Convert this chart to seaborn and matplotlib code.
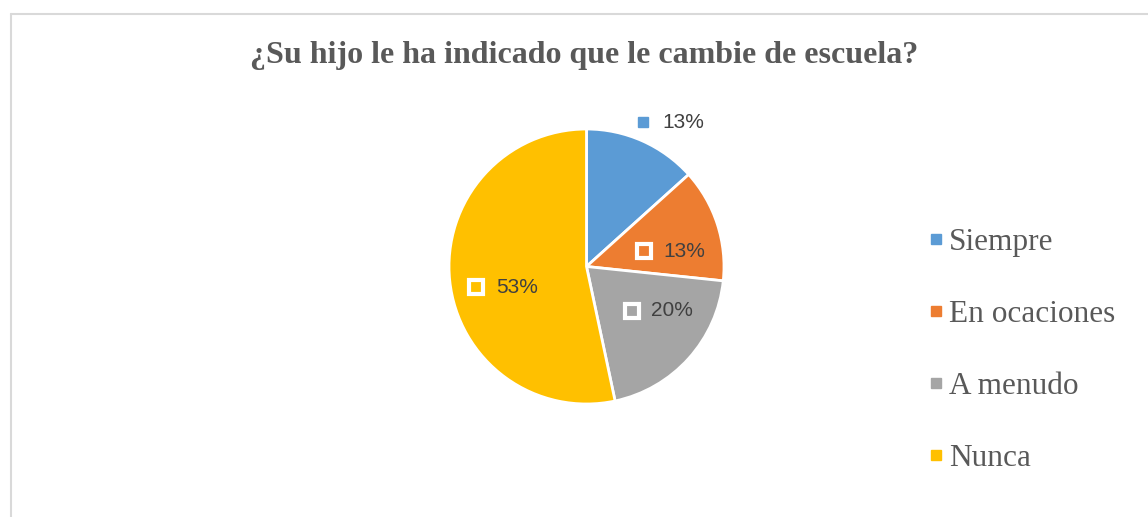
import matplotlib.pyplot as plt
import seaborn as sns
from matplotlib.lines import Line2D

# Data (slice angles match 2, 2, 3, 8 out of 15 answers)
categories = ["Siempre", "En ocaciones", "A menudo", "Nunca"]
counts = [2, 2, 3, 8]
colors = ["#5B9BD5", "#ED7D31", "#A5A5A5", "#FFC000"]
title = "¿Su hijo le ha indicado que le cambie de escuela?"

total = sum(counts)
pct_labels = [f"{round(100 * c / total)}%" for c in counts]

# where each data label sits (pie radius = 1), Excel "best fit" style
label_pos = [(0.41, 1.05), (0.42, 0.11), (0.33, -0.32), (-0.80, -0.15)]
label_inside = [False, True, True, True]

sns.set_style("white")

fig = plt.figure(figsize=(11.48, 5.17), dpi=100)

# pie axes: centre at about (586, 266) px, radius ~137 px
W, H = 1148, 517
r_px = 137.5
span = 1.2
ax = fig.add_axes([(586.5 - span * r_px) / W, (H - 266.5 - span * r_px) / H,
                   2 * span * r_px / W, 2 * span * r_px / H])
wedges, _ = ax.pie(counts, colors=colors, startangle=90, counterclock=False,
                   radius=1, wedgeprops=dict(edgecolor="white", linewidth=2))
ax.set_xlim(-span, span)
ax.set_ylim(-span, span)
ax.set_aspect("equal")
ax.axis("off")

for (x, y), lab, col, inside in zip(label_pos, pct_labels, colors, label_inside):
    if inside:
        ax.plot(x, y, marker="s", markersize=10.5, markerfacecolor=col,
                markeredgecolor="white", markeredgewidth=3, clip_on=False)
    else:
        ax.plot(x, y, marker="s", markersize=6.5, color=col, clip_on=False)
    ax.text(x + 0.14, y, lab, ha="left", va="center", fontsize=15,
            family="Liberation Sans", color="#404040", clip_on=False)

fig.text(0.509, 0.892, title, ha="center", va="center", fontsize=23,
         fontweight="bold", family="Liberation Serif", color="#595959")

handles = [Line2D([], [], marker="s", linestyle="", markersize=7, color=c)
           for c in colors]
leg = fig.legend(handles, categories, loc="upper left",
                 bbox_to_anchor=(913 / W, 1 - 212 / H), frameon=False,
                 prop=dict(family="Liberation Serif", size=22.5),
                 labelcolor="#595959", handlelength=0.5, handletextpad=0.15,
                 labelspacing=1.38, borderpad=0)

# chart area border (only top and left edges are inside the crop)
border = "#D9D9D9"
fig.add_artist(Line2D([10.5 / W, 1], [1 - 13.5 / H, 1 - 13.5 / H],
                      color=border, linewidth=1.5, transform=fig.transFigure))
fig.add_artist(Line2D([10.5 / W, 10.5 / W], [0, 1 - 13.5 / H],
                      color=border, linewidth=1.5, transform=fig.transFigure))

fig.savefig("out.png", dpi=100, facecolor="white")
